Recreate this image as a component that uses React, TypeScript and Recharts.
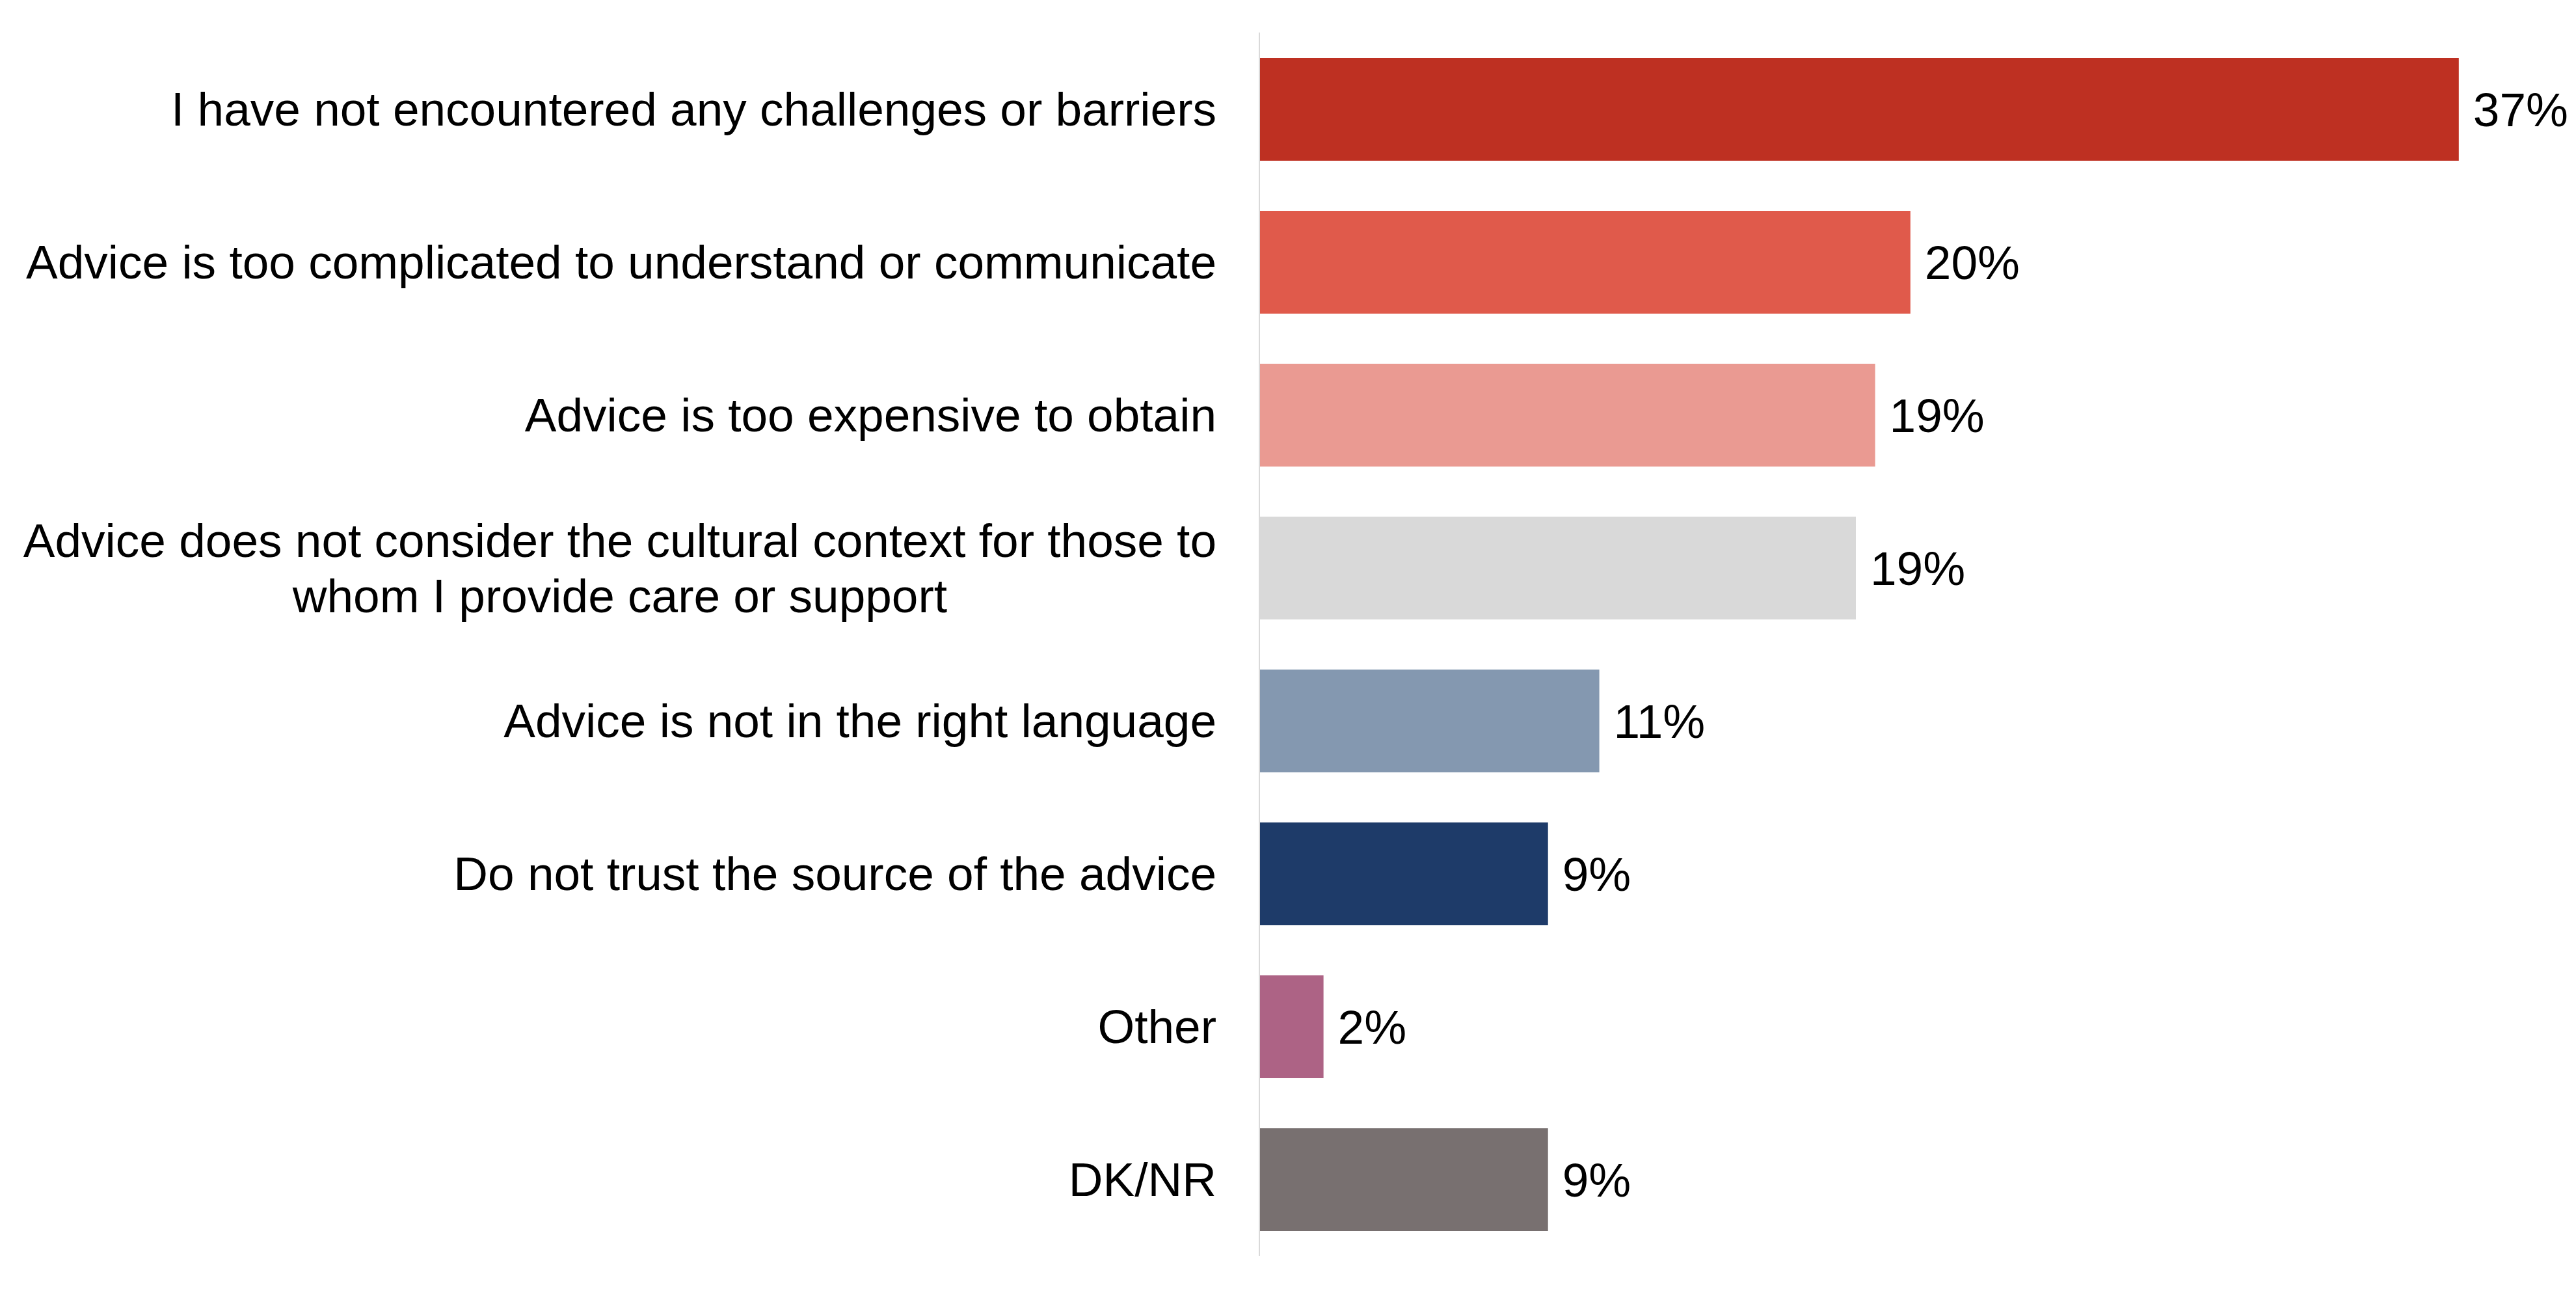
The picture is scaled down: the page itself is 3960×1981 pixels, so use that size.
import React from 'react';
import { BarChart, Bar, XAxis, YAxis, Cell, LabelList } from 'recharts';

const categories = [
    'I have not encountered any challenges or barriers',
    'Advice is too complicated to understand or communicate',
    'Advice is too expensive to obtain',
    'Advice does not consider the cultural context for those to\nwhom I provide care or support',
    'Advice is not in the right language',
    'Do not trust the source of the advice',
    'Other',
    'DK/NR',
];

const shares = [37.4, 20.3, 19.2, 18.6, 10.6, 9.0, 2.0, 9.0];

const barColors = ['#BE3022', '#E05A4B', '#EA9A92', '#D9D9D9', '#8498B0', '#1E3B69', '#AD6385', '#787070'];

const data = categories.map((name, i) => ({ name, value: shares[i] }));

const FONT = '"Liberation Sans", Arial, sans-serif';
const FONT_SIZE = 73;

let ctx: CanvasRenderingContext2D | null = null;
const measure = (s: string) => {
    if (!ctx) ctx = document.createElement('canvas').getContext('2d');
    if (!ctx) return s.length * FONT_SIZE * 0.5;
    ctx.font = `${FONT_SIZE}px ${FONT}`;
    return ctx.measureText(s).width;
};

const CategoryTick = ({ x, y, payload }: any) => {
    const lines = String(payload.value).split('\n');
    const lineHeight = 85;
    const top = y - ((lines.length - 1) * lineHeight) / 2;
    if (lines.length === 1) {
        return (
            <text x={x} y={y} dy="0.355em" textAnchor="end" fill="#000" fontSize={FONT_SIZE} fontFamily={FONT}>
                {lines[0]}
            </text>
        );
    }
    // multi-line labels: lines centred on each other, block right-aligned
    const maxW = Math.max(...lines.map(measure));
    const cx = x - maxW / 2;
    return (
        <text y={top} textAnchor="middle" fill="#000" fontSize={FONT_SIZE} fontFamily={FONT}>
            {lines.map((line, i) => (
                <tspan key={i} x={cx} y={top + i * lineHeight} dy="0.355em">
                    {line}
                </tspan>
            ))}
        </text>
    );
};

const App: React.FC = () => {
    return (
        <div style={{ position: 'absolute', left: 0, top: 0, background: '#fff' }}>
            <BarChart
                width={3960}
                height={1981}
                data={data}
                layout="vertical"
                margin={{ top: 50, right: 52, bottom: 51, left: 0 }}
            >
                <XAxis type="number" domain={[0, 40]} hide />
                <YAxis
                    type="category"
                    dataKey="name"
                    width={1936}
                    interval={0}
                    tickLine={false}
                    tickSize={0}
                    tickMargin={66}
                    axisLine={{ stroke: '#D9D9D9', strokeWidth: 2 }}
                    tick={<CategoryTick />}
                />
                <Bar dataKey="value" barSize={158} isAnimationActive={false}>
                    {data.map((_, i) => (
                        <Cell key={i} fill={barColors[i]} />
                    ))}
                    <LabelList
                        dataKey="value"
                        position="right"
                        offset={22}
                        fill="#000"
                        fontSize={FONT_SIZE}
                        fontFamily={FONT}
                        formatter={(v: any) => `${Math.round(Number(v))}%`}
                    />
                </Bar>
            </BarChart>
        </div>
    );
};

export default App;
